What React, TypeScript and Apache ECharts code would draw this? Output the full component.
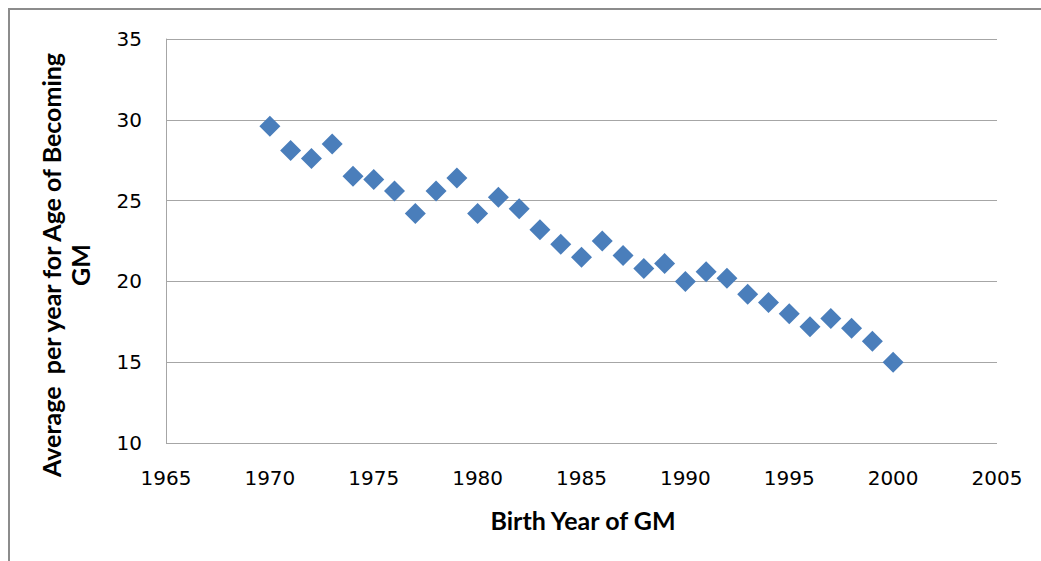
import React, { useEffect, useRef } from "react";
import * as echarts from "echarts";

const years = [1970, 1971, 1972, 1973, 1974, 1975, 1976, 1977, 1978, 1979, 1980, 1981, 1982, 1983, 1984, 1985, 1986, 1987, 1988, 1989, 1990, 1991, 1992, 1993, 1994, 1995, 1996, 1997, 1998, 1999, 2000];
const avgAge = [29.6, 28.1, 27.6, 28.5, 26.5, 26.3, 25.6, 24.2, 25.6, 26.4, 24.2, 25.2, 24.5, 23.2, 22.3, 21.5, 22.5, 21.6, 20.8, 21.1, 20.0, 20.6, 20.2, 19.2, 18.7, 18.0, 17.2, 17.7, 17.1, 16.3, 15.0];

const xTitle = "Birth Year of GM";
const yTitleLines = ["Average  per year for Age of Becoming", "GM"];

export default function App() {
  const ref = useRef<HTMLDivElement>(null);
  useEffect(() => {
    document.body.style.margin = "0";
    const chart = echarts.init(ref.current!, null, { renderer: "svg" });
    const tickFont = "'DejaVu Sans', sans-serif";
    const titleFont = "Lato, 'Open Sans', sans-serif";
    chart.setOption({
      animation: false,
      backgroundColor: "#ffffff",
      grid: { left: 166, right: 44, top: 39, bottom: 118, containLabel: false },
      xAxis: {
        type: "value",
        min: 1965,
        max: 2005,
        interval: 5,
        axisLine: { show: false },
        axisTick: { show: false },
        splitLine: { show: false },
        axisLabel: { color: "#000", fontSize: 20, fontFamily: tickFont, margin: 25, formatter: (v: number) => String(v) },
      },
      yAxis: {
        type: "value",
        min: 10,
        max: 35,
        interval: 5,
        axisLine: { show: true, lineStyle: { color: "#a6a6a6", width: 1 } },
        axisTick: { show: false },
        splitLine: { show: true, lineStyle: { color: "#a6a6a6", width: 1 } },
        axisLabel: { color: "#000", fontSize: 20, fontFamily: tickFont, margin: 24 },
      },
      graphic: [
        { type: "line", shape: { x1: 8, y1: 9, x2: 1041, y2: 9 }, style: { stroke: "#8c8c8c", lineWidth: 2 } },
        { type: "line", shape: { x1: 9, y1: 8, x2: 9, y2: 561 }, style: { stroke: "#8c8c8c", lineWidth: 2 } },
        {
          type: "text",
          x: 583,
          y: 520,
          style: { text: xTitle, font: `bold 25px ${titleFont}`, fill: "#000", textAlign: "center", textVerticalAlign: "middle" },
        },
        {
          type: "text",
          x: 65,
          y: 265,
          rotation: Math.PI / 2,
          style: {
            text: yTitleLines.join("\n"),
            font: `bold 25px ${titleFont}`,
            lineHeight: 29,
            fill: "#000",
            textAlign: "center",
            textVerticalAlign: "middle",
          },
        },
      ],
      series: [
        {
          type: "scatter",
          data: years.map((y, i) => [y, avgAge[i]]),
          symbol: "diamond",
          symbolSize: [21, 21],
          itemStyle: { color: "#4a7ebb", opacity: 1 },
        },
      ],
    });
    return () => chart.dispose();
  }, []);
  return <div ref={ref} style={{ width: 1041, height: 561 }} />;
}
